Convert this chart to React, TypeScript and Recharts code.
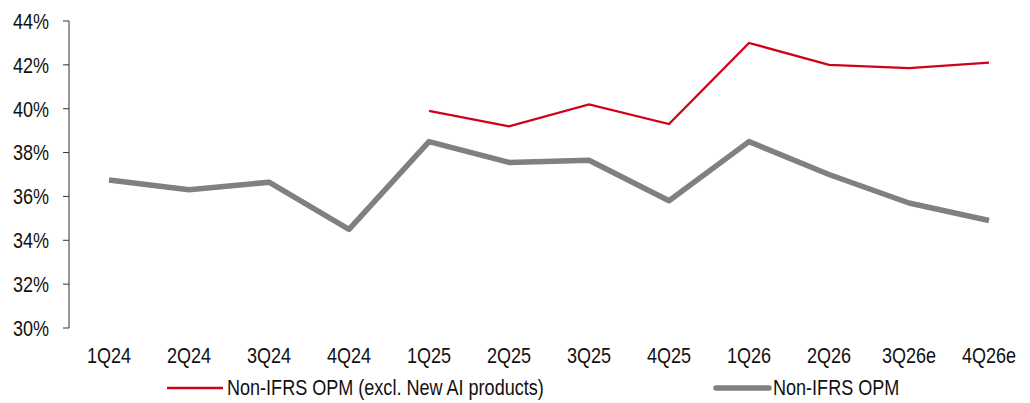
import React from "react";
import { LineChart, Line, XAxis, YAxis, Legend } from "recharts";

const quarters = ["1Q24", "2Q24", "3Q24", "4Q24", "1Q25", "2Q25", "3Q25", "4Q25", "1Q26", "2Q26", "3Q26e", "4Q26e"];
const opmExclAI: (number | null)[] = [null, null, null, null, 39.9, 39.2, 40.2, 39.3, 43.0, 42.0, 41.85, 42.1];
const opm: number[] = [36.75, 36.3, 36.65, 34.5, 38.5, 37.55, 37.65, 35.8, 38.5, 37.0, 35.7, 34.9];
const yTicks = [30, 32, 34, 36, 38, 40, 42, 44];
const boundaryTicks = [0, 1, 2, 3, 4, 5, 6, 7, 8, 9, 10, 11, 12];

const RED_NAME = "Non-IFRS OPM (excl. New AI products)";
const GRAY_NAME = "Non-IFRS OPM";

const data = quarters.map((q, i) => ({ q, red: opmExclAI[i], gray: opm[i] }));

const FONT = "'Liberation Sans', Arial, sans-serif";
const FS = 22;
const SX = 0.82;
const RED = "#D0021B";
const GRAY = "#808080";
const AXIS = "#333333";
const TEXT = "#111111";

const XTick = (props: any) => {
  const { x, y, payload } = props;
  return (
    <g transform={`translate(${x},${y})`}>
      <text transform={`scale(${SX},1)`} textAnchor="middle" dy="0.71em" fill={TEXT} fontSize={FS} fontFamily={FONT}>
        {payload.value}
      </text>
    </g>
  );
};

const YTick = (props: any) => {
  const { x, y, payload } = props;
  return (
    <g transform={`translate(${x},${y})`}>
      <text transform={`scale(${SX},1)`} textAnchor="end" dy="0.355em" fill={TEXT} fontSize={FS} fontFamily={FONT}>
        {`${payload.value}%`}
      </text>
    </g>
  );
};

const squeezed: React.CSSProperties = {
  display: "inline-block",
  whiteSpace: "nowrap",
  transform: `scaleX(${SX})`,
  transformOrigin: "left center",
};

const LegendContent = () => (
  <div style={{ position: "relative", height: 30, fontFamily: FONT, fontSize: FS, color: TEXT, lineHeight: "24px" }}>
    <div style={{ position: "absolute", left: 167, top: 3, display: "flex", alignItems: "center" }}>
      <svg width={57} height={8}>
        <line x1={0} y1={4} x2={56} y2={4} stroke={RED} strokeWidth={2.3} />
      </svg>
      <span style={{ ...squeezed, marginLeft: 3 }}>{RED_NAME}</span>
    </div>
    <div style={{ position: "absolute", left: 713, top: 3, display: "flex", alignItems: "center" }}>
      <svg width={59} height={8}>
        <line x1={3} y1={4} x2={56} y2={4} stroke={GRAY} strokeWidth={5.5} strokeLinecap="round" />
      </svg>
      <span style={{ ...squeezed, marginLeft: 1 }}>{GRAY_NAME}</span>
    </div>
  </div>
);

export default function App() {
  return (
    <div style={{ position: "absolute", left: 0, top: 0, width: 1030, height: 403, background: "#fff" }}>
      <LineChart width={1030} height={403} data={data} margin={{ top: 21, right: 1, bottom: 0, left: 0 }}>
        <XAxis
          xAxisId="ticks"
          type="number"
          domain={[0, 12]}
          allowDataOverflow
          ticks={boundaryTicks}
          tickFormatter={() => ""}
          height={0}
          tickSize={6}
          axisLine={{ stroke: AXIS, strokeWidth: 1 }}
          tickLine={{ stroke: AXIS, strokeWidth: 1 }}
        />
        <XAxis
          xAxisId="cat"
          dataKey="q"
          type="category"
          padding={{ left: 40, right: 40 }}
          height={45}
          axisLine={false}
          tickLine={false}
          tickSize={0}
          tickMargin={19}
          interval={0}
          tick={<XTick />}
        />
        <YAxis
          domain={[30, 44]}
          ticks={yTicks}
          allowDataOverflow
          width={69}
          tickSize={6}
          tickMargin={14}
          axisLine={{ stroke: AXIS, strokeWidth: 1 }}
          tickLine={{ stroke: AXIS, strokeWidth: 1 }}
          tick={<YTick />}
        />
        <Legend verticalAlign="bottom" height={30} content={<LegendContent />} />
        <Line
          xAxisId="cat"
          dataKey="red"
          name={RED_NAME}
          stroke={RED}
          strokeWidth={2.3}
          dot={false}
          activeDot={false}
          connectNulls={false}
          isAnimationActive={false}
        />
        <Line
          xAxisId="cat"
          dataKey="gray"
          name={GRAY_NAME}
          stroke={GRAY}
          strokeWidth={5.5}
          dot={false}
          activeDot={false}
          strokeLinejoin="round"
          isAnimationActive={false}
        />
      </LineChart>
    </div>
  );
}
